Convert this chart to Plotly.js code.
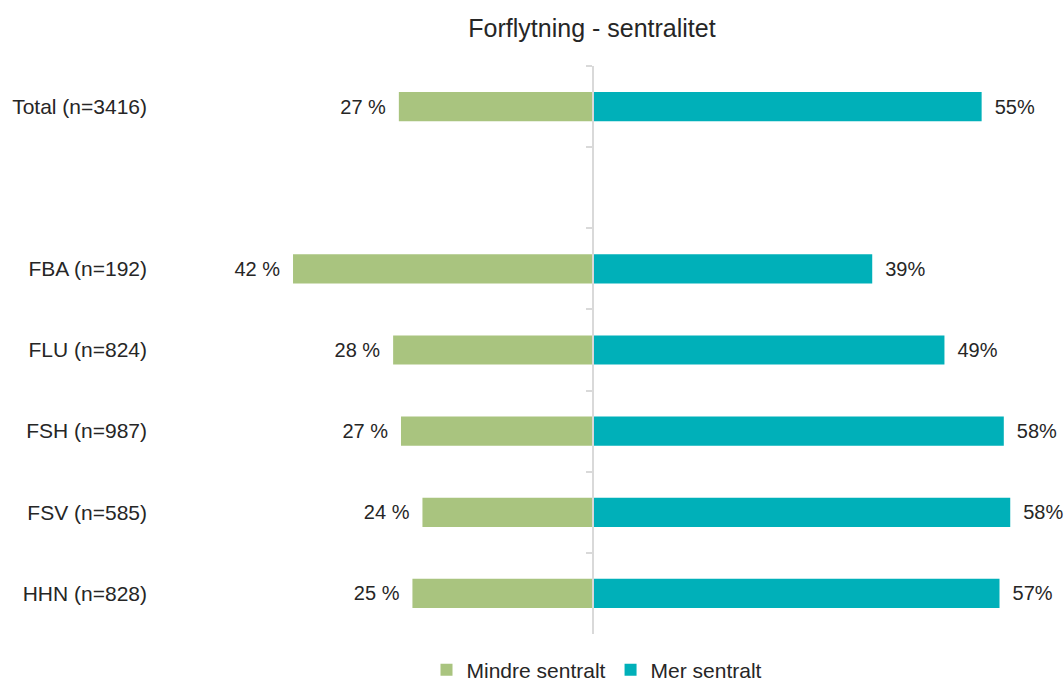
<!DOCTYPE html>
<html>
<head>
<meta charset="utf-8">
<script src="https://cdn.plot.ly/plotly-3.0.1.min.js"></script>
<style>html,body{margin:0;padding:0;background:#fff;}#chart{width:1064px;height:684px;}</style>
</head>
<body>
<div id="chart"></div>
<script>
// Data
const categories = ['Total (n=3416)', ' ', 'FBA (n=192)', 'FLU (n=824)', 'FSH (n=987)', 'FSV (n=585)', 'HHN (n=828)'];
const mindreSentralt = [27.2, null, 42.0, 28.0, 26.9, 23.9, 25.3];
const merSentralt = [54.3, null, 39.0, 49.1, 57.4, 58.3, 56.8];
const mindreLabels = ['27 %', '', '42 %', '28 %', '27 %', '24 %', '25 %'];
const merLabels = ['55%', '', '39%', '49%', '58%', '58%', '57%'];
const seriesNames = ['Mindre sentralt', 'Mer sentralt'];
const chartTitle = 'Forflytning - sentralitet';

const xRange = [-62, 64];
const centerFrac = (0 - xRange[0]) / (xRange[1] - xRange[0]);
const font = 'Liberation Sans, Arial, sans-serif';
const txtColor = '#262626';
const pad = '\u2002';

const traces = [
  {
    type: 'bar', orientation: 'h', name: seriesNames[0],
    y: categories,
    x: mindreSentralt.map(v => v === null ? null : -v),
    text: mindreLabels.map(t => t ? t + pad : ''),
    textposition: 'outside', cliponaxis: false,
    textfont: {family: font, size: 20, color: txtColor},
    marker: {color: '#A9C47F', line: {width: 0}},
    hoverinfo: 'skip'
  },
  {
    type: 'bar', orientation: 'h', name: seriesNames[1],
    y: categories,
    x: merSentralt,
    text: merLabels.map(t => t ? pad + t : ''),
    textposition: 'outside', cliponaxis: false,
    textfont: {family: font, size: 20, color: txtColor},
    marker: {color: '#00B0B9', line: {width: 0}},
    hoverinfo: 'skip'
  },
  {
    // invisible helper so the centre axis knows the categories
    type: 'scatter', mode: 'markers', yaxis: 'y2', showlegend: false,
    y: categories, x: categories.map(() => 0),
    marker: {opacity: 0}, hoverinfo: 'skip'
  }
];

const layout = {
  width: 1064, height: 684,
  margin: {l: 150, r: 13, t: 66, b: 50, autoexpand: false},
  paper_bgcolor: '#ffffff', plot_bgcolor: '#ffffff',
  font: {family: font, color: txtColor, size: 20},
  title: {
    text: chartTitle, font: {family: font, size: 25, color: txtColor},
    x: 592 / 1064, xref: 'container', xanchor: 'center',
    y: 1 - 28 / 684, yref: 'container', yanchor: 'middle'
  },
  barmode: 'relative', bargap: 0.64,
  showlegend: true,
  legend: {
    orientation: 'h', x: 597 / 1064, xref: 'container', xanchor: 'center',
    y: 1 - 670 / 684, yref: 'container', yanchor: 'middle',
    font: {family: font, size: 21, color: txtColor}, traceorder: 'normal',
    bgcolor: 'rgba(0,0,0,0)'
  },
  xaxis: {
    range: xRange, showgrid: false, zeroline: false, showline: false,
    showticklabels: false, ticks: '', fixedrange: true
  },
  yaxis: {
    type: 'category', categoryorder: 'array', categoryarray: categories,
    range: [6.5, -0.5], showgrid: false, zeroline: false, showline: false,
    ticks: '', tickfont: {family: font, size: 21, color: txtColor}, automargin: false,
    ticklabelstandoff: 2
  },
  yaxis2: {
    type: 'category', categoryorder: 'array', categoryarray: categories,
    overlaying: 'y', anchor: 'free', position: centerFrac, side: 'left',
    range: [6.5, -0.5], showgrid: false, zeroline: false,
    showline: true, linecolor: '#d9d9d9', linewidth: 2,
    ticks: 'outside', tickson: 'boundaries', ticklen: 6, tickwidth: 2, tickcolor: '#d9d9d9',
    showticklabels: false
  }
};

Plotly.newPlot('chart', traces, layout, {displayModeBar: false, staticPlot: true});
</script>
</body>
</html>
